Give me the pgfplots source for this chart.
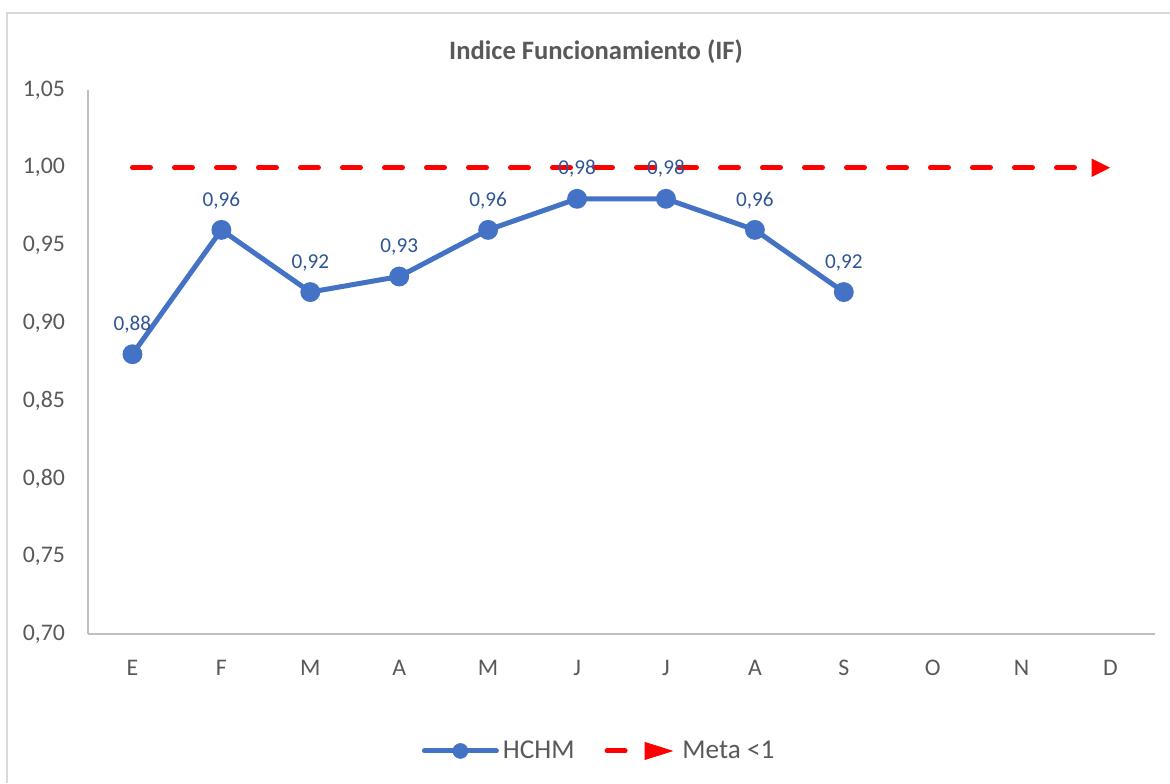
\documentclass[border=0pt]{standalone}
\usepackage{pgfplots}
\pgfplotsset{compat=1.18}
\usepackage{fontspec}
\setmainfont{Carlito}
\usetikzlibrary{arrows.meta}
\definecolor{hblue}{HTML}{4472C4}
\definecolor{lblue}{HTML}{2F5597}
\definecolor{tgray}{HTML}{595959}
\definecolor{agray}{HTML}{BFBFBF}
\definecolor{bgray}{HTML}{D9D9D9}
\definecolor{mred}{HTML}{FF0000}
\begin{document}
\begin{tikzpicture}
\useasboundingbox (0,0) rectangle (585pt,391.5pt);
\draw[bgray, line width=0.8pt] (3.5pt,0pt) -- (3.5pt,385pt) -- (585pt,385pt);
\node[font=\fontsize{13.3}{16}\selectfont\bfseries, text=tgray] at (298pt,365.5pt) {Indice Funcionamiento (IF)};
\begin{axis}[
  at={(44pt,74.5pt)}, anchor=south west,
  scale only axis, width=533.5pt, height=272pt,
  xmin=-0.5, xmax=11.5, ymin=0.70, ymax=1.05,
  axis lines*=left,
  axis line style={agray, line width=0.8pt},
  major tick length=0pt,
  xtick={0,...,11},
  xticklabels={E,F,M,A,M,J,J,A,S,O,N,D},
  ytick={0.70,0.75,0.80,0.85,0.90,0.95,1.00,1.05},
  /pgf/number format/.cd, use comma, fixed, fixed zerofill, precision=2, assume math mode=true,
  /pgfplots/.cd,
  tick label style={font=\fontsize{11.9}{14}\selectfont, text=tgray},
  yticklabel style={xshift=-8pt},
  xticklabel style={yshift=-9.5pt},
  clip=false,
  legend style={at={(0.48,-0.215)}, anchor=center, draw=none, fill=none,
    font=\fontsize{13.6}{16}\selectfont, text=tgray,
    legend columns=2, /tikz/every even column/.append style={column sep=13pt}},
]
\addlegendimage{legend image code/.code={
  \draw[hblue, line width=2.5pt, line cap=round] (0pt,0pt) -- (36pt,0pt);
  \fill[hblue] (18pt,0pt) circle (3.7pt);}}
\addlegendentry{HCHM}
\addlegendimage{legend image code/.code={
  \draw[mred, line width=2.5pt, line cap=round] (1.5pt,0pt) -- (10.5pt,0pt);
  \fill[mred] (20.5pt,4.25pt) -- (34pt,0pt) -- (20.5pt,-4.25pt) -- cycle;
  \path (37pt,0pt);}}
\addlegendentry{Meta <1}
\addplot[forget plot, mred, line width=2.5pt, line cap=round, dash pattern=on 9pt off 12pt,
  -{Triangle[length=9.5pt, width=8.5pt]}]
  coordinates {(0,1.00) (1,1.00) (2,1.00) (3,1.00) (4,1.00) (5,1.00) (6,1.00) (7,1.00) (8,1.00) (9,1.00) (10,1.00) (11,1.00)};
\addplot[forget plot, hblue, line width=2.5pt, mark=*, mark size=3.7pt, mark options={solid, fill=hblue},
  nodes near coords, nodes near coords style={font=\fontsize{10.6}{12}\selectfont, text=lblue, yshift=6pt}]
  coordinates {(0,0.88) (1,0.96) (2,0.92) (3,0.93) (4,0.96) (5,0.98) (6,0.98) (7,0.96) (8,0.92)};
\end{axis}
\end{tikzpicture}
\end{document}
